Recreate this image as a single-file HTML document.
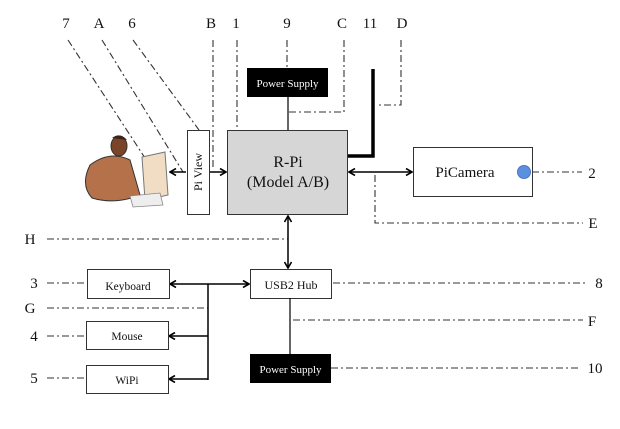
<!DOCTYPE html>
<html><head><meta charset="utf-8"><style>
html,body{margin:0;padding:0;background:#fff;width:620px;height:429px;overflow:hidden}
svg text{font-family:"Liberation Serif",serif;fill:#111}
</style></head><body>
<svg width="620" height="429" viewBox="0 0 620 429" xmlns="http://www.w3.org/2000/svg">
<defs>
<marker id="a" markerWidth="8" markerHeight="8" refX="7" refY="4" orient="auto" markerUnits="userSpaceOnUse">
<path d="M1,0.5 L7,4 L1,7.5" fill="none" stroke="#000" stroke-width="1.6"/></marker>
<marker id="s" markerWidth="8" markerHeight="8" refX="1" refY="4" orient="auto" markerUnits="userSpaceOnUse">
<path d="M7,0.5 L1,4 L7,7.5" fill="none" stroke="#000" stroke-width="1.6"/></marker>
</defs>
<g font-size="15" text-anchor="middle">
<text x="66" y="28">7</text><text x="99" y="28">A</text><text x="132" y="28">6</text>
<text x="211" y="28">B</text><text x="236" y="28">1</text><text x="287" y="28">9</text>
<text x="342" y="28">C</text><text x="370" y="28">11</text><text x="402" y="28">D</text>
<text x="592" y="178">2</text><text x="593" y="228">E</text>
<text x="30" y="244">H</text><text x="34" y="288">3</text><text x="30" y="313">G</text>
<text x="34" y="341">4</text><text x="34" y="383">5</text>
<text x="599" y="288">8</text><text x="592" y="326">F</text><text x="595" y="373">10</text>
</g>
<g fill="none" stroke="#333" stroke-width="1.1" stroke-dasharray="7,3,2,3">
<line x1="68" y1="40" x2="145" y2="158"/>
<line x1="102" y1="40" x2="183" y2="172"/>
<line x1="133" y1="40" x2="199" y2="130"/>
<line x1="213" y1="40" x2="213" y2="170"/>
<line x1="237" y1="40" x2="237" y2="128"/>
<line x1="287" y1="40" x2="287" y2="68"/>
<polyline points="344,40 344,112 288,112"/>
<polyline points="401,40 401,105 378,105"/>
<line x1="532" y1="172" x2="582" y2="172"/>
<polyline points="375,175 375,223 583,223"/>
<line x1="47" y1="239" x2="288" y2="239"/>
<line x1="47" y1="283" x2="87" y2="283"/>
<line x1="47" y1="308" x2="208" y2="308"/>
<line x1="47" y1="336" x2="86" y2="336"/>
<line x1="47" y1="378" x2="86" y2="378"/>
<line x1="333" y1="283" x2="585" y2="283"/>
<line x1="293" y1="320" x2="583" y2="320"/>
<line x1="331" y1="368" x2="580" y2="368"/>
</g>
<g>
<path d="M90,165 Q110,150 130,160 L140,195 Q115,205 92,198 Q80,185 90,165Z" fill="#b5714a" stroke="#333" stroke-width="1"/>
<ellipse cx="119" cy="146" rx="8" ry="10" fill="#7a4428" stroke="#333"/>
<path d="M112,138 Q120,132 127,140" fill="#3a2418"/>
<path d="M142,157 L165,152 L168,195 L145,200Z" fill="#f1dcc4" stroke="#777" stroke-width="1"/>
<path d="M130,196 L160,193 L163,205 L133,207Z" fill="#eee" stroke="#888" stroke-width="0.8"/>
</g>
<rect x="187.5" y="130.5" width="22" height="84" fill="#fff" stroke="#333"/>
<text transform="translate(202,172) rotate(-90)" font-size="12" text-anchor="middle">Pi View</text>
<rect x="227.5" y="130.5" width="120" height="84" fill="#d6d6d6" stroke="#333"/>
<text x="288" y="167" font-size="16" text-anchor="middle">R-Pi</text>
<text x="288" y="187" font-size="16" text-anchor="middle">(Model A/B)</text>
<rect x="247" y="68" width="81" height="29" fill="#000"/>
<text x="287.5" y="87" font-size="11" text-anchor="middle" style="fill:#fff">Power Supply</text>
<line x1="288" y1="97" x2="288" y2="130" stroke="#000" stroke-width="1.2"/>
<polyline points="373,69 373,156 348,156" fill="none" stroke="#000" stroke-width="3.5"/>
<rect x="413.5" y="147.5" width="119" height="49" fill="#fff" stroke="#333"/>
<text x="465" y="177" font-size="15" text-anchor="middle">PiCamera</text>
<circle cx="524" cy="172" r="6.5" fill="#5b8fe0" stroke="#4a78c4"/>
<g stroke="#000" stroke-width="1.5" fill="none">
<line x1="170" y1="172" x2="186" y2="172" marker-start="url(#s)"/>
<line x1="210" y1="172" x2="226" y2="172" marker-end="url(#a)"/>
<line x1="349" y1="172" x2="412" y2="172" marker-start="url(#s)" marker-end="url(#a)"/>
<line x1="288" y1="216" x2="288" y2="268" marker-start="url(#s)" marker-end="url(#a)"/>
<line x1="170" y1="284" x2="249" y2="284" marker-start="url(#s)" marker-end="url(#a)"/>
<line x1="208" y1="284" x2="208" y2="380"/>
<line x1="208" y1="336" x2="169" y2="336" marker-end="url(#a)"/>
<line x1="208" y1="379" x2="169" y2="379" marker-end="url(#a)"/>
</g>
<rect x="250.5" y="269.5" width="81" height="29" fill="#fff" stroke="#333"/>
<text x="291" y="289" font-size="12" text-anchor="middle">USB2 Hub</text>
<rect x="87.5" y="269.5" width="82" height="29" fill="#fff" stroke="#333"/>
<text x="128" y="290" font-size="11.5" text-anchor="middle">Keyboard</text>
<rect x="86.5" y="321.5" width="82" height="28" fill="#fff" stroke="#333"/>
<text x="127" y="340" font-size="11.5" text-anchor="middle">Mouse</text>
<rect x="86.5" y="365.5" width="82" height="28" fill="#fff" stroke="#333"/>
<text x="127" y="384" font-size="11.5" text-anchor="middle">WiPi</text>
<line x1="290" y1="298" x2="290" y2="354" stroke="#000" stroke-width="1.2"/>
<rect x="250" y="354" width="81" height="29" fill="#000"/>
<text x="290.5" y="373" font-size="11" text-anchor="middle" style="fill:#fff">Power Supply</text>
</svg>
</body></html>
